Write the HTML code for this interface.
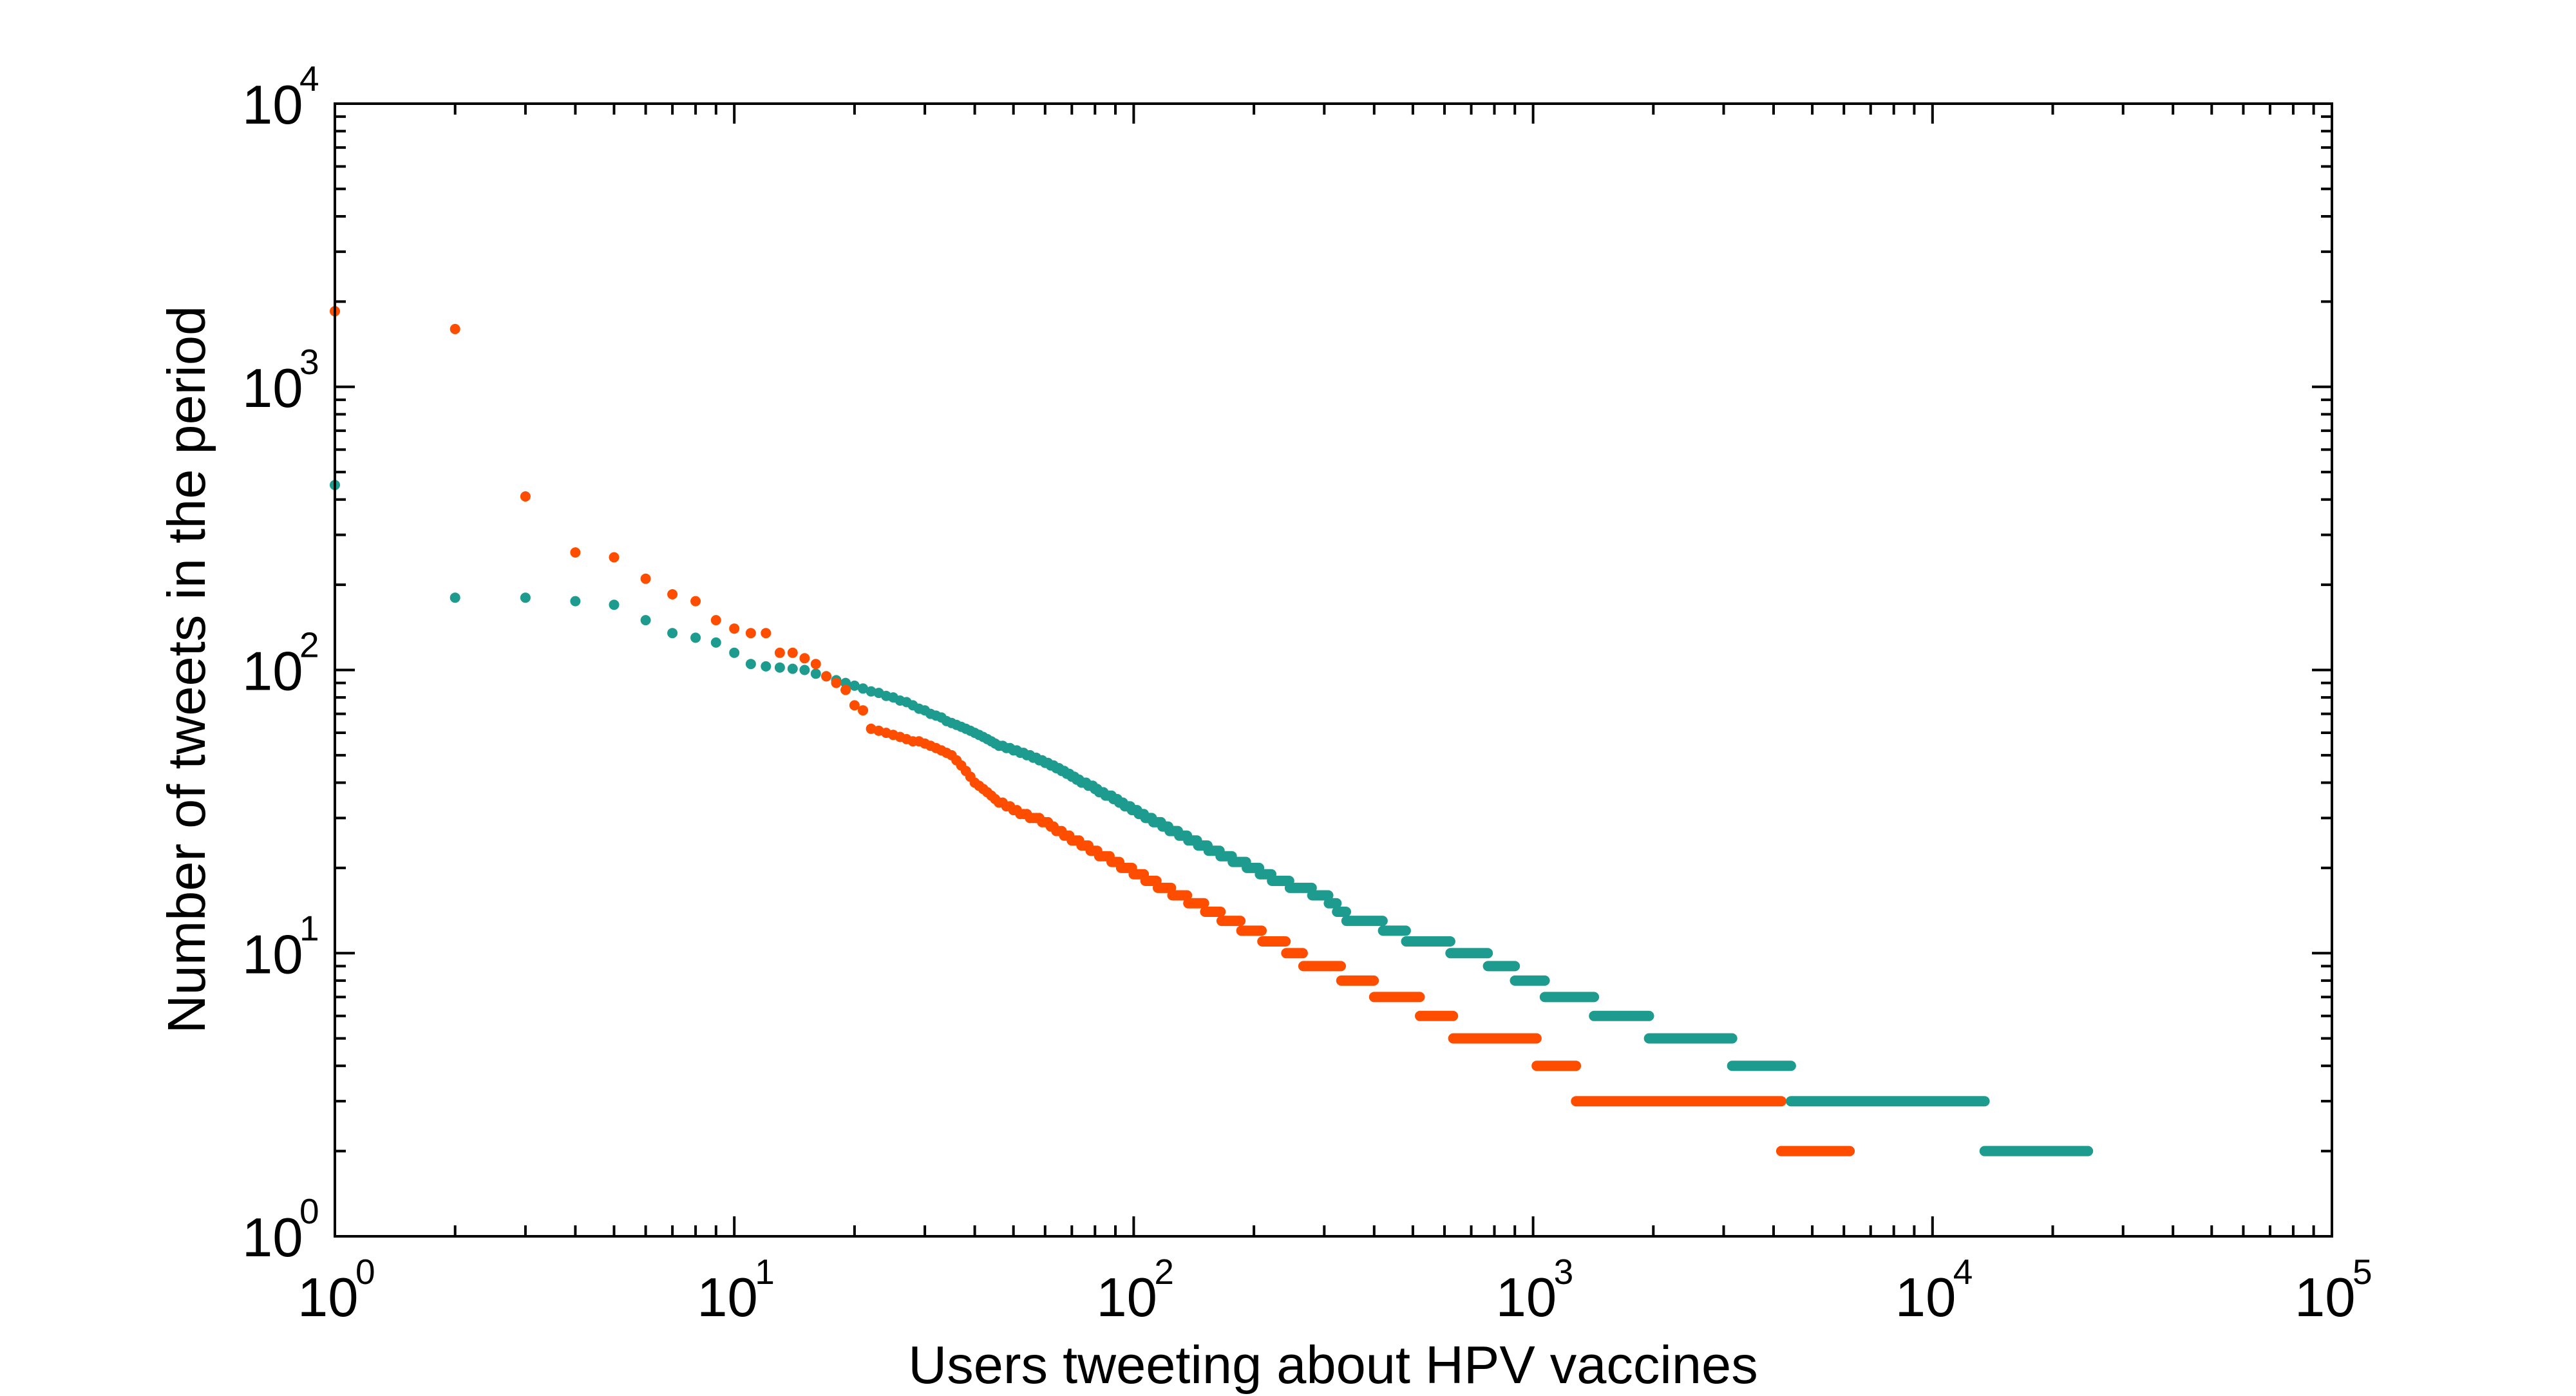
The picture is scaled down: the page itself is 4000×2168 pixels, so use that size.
<!DOCTYPE html>
<html><head><meta charset="utf-8">
<style>
html,body{margin:0;padding:0;background:#fff;}
svg{display:block;}
text{font-family:"Liberation Sans",Arial,sans-serif;fill:#000;}
</style></head>
<body>
<svg id="s" width="4000" height="2168" xmlns="http://www.w3.org/2000/svg">
<rect width="4000" height="2168" fill="#fff"/>
<g id="data"></g>
<g id="axes"></g>
<text x="2070" y="2148" font-size="83" text-anchor="middle">Users tweeting about HPV vaccines</text>
<text transform="translate(318,1040) rotate(-90)" font-size="83" text-anchor="middle">Number of tweets in the period</text>
</svg>
<script>
var L=520,R=3621,T=161,B=1920,DX=(R-L)/5,DY=(B-T)/4;
function px(x){return L+Math.log10(x)*DX;}
function py(y){return B-Math.log10(y)*DY;}
var NS="http://www.w3.org/2000/svg";
function el(tag,attrs,parent,txt){var e=document.createElementNS(NS,tag);for(var k in attrs)e.setAttribute(k,attrs[k]);if(txt!==undefined)e.textContent=txt;parent.appendChild(e);return e;}
var ax=document.getElementById('axes');
el('rect',{x:L,y:T,width:R-L,height:B-T,fill:'none',stroke:'#000','stroke-width':4},ax);
var d='';
for(var e=0;e<5;e++){for(var m=1;m<10;m++){var v=Math.pow(10,e)*m;if(e==0&&m==1)continue;var X=px(v);var len=(m==1)?31:17;d+='M'+X+' '+B+'v'+(-len)+'M'+X+' '+T+'v'+len;}}
for(var e=0;e<4;e++){for(var m=1;m<10;m++){var v=Math.pow(10,e)*m;if(e==0&&m==1)continue;var Y=py(v);var len=(m==1)?31:17;d+='M'+L+' '+Y+'h'+len+'M'+R+' '+Y+'h'+(-len);}}
el('path',{d:d,stroke:'#000','stroke-width':4,fill:'none'},ax);
for(var e=0;e<=5;e++){var X=px(Math.pow(10,e));var t=el('text',{x:X-58,y:2044,'font-size':85},ax,'10');el('text',{x:X+32,y:1994,'font-size':55},ax,''+e);}
for(var e=0;e<=4;e++){var Y=py(Math.pow(10,e));el('text',{x:376,y:Y+31,'font-size':85},ax,'10');el('text',{x:465,y:Y-20,'font-size':55},ax,''+e);}
function interp(anch,x){
 for(var i=0;i<anch.length-1;i++){var a=anch[i],b=anch[i+1];if(x>=a[0]&&x<=b[0]){var t=(Math.log(x)-Math.log(a[0]))/(Math.log(b[0])-Math.log(a[0]));return Math.exp(Math.log(a[1])+t*(Math.log(b[1])-Math.log(a[1])));}}
 return anch[anch.length-1][1];}
function series(first,anch,end,color){
 var g=document.getElementById('data');
 var pts=[];
 for(var i=0;i<first.length;i++)pts.push([i+1,first[i]]);
 for(var x=first.length+1;x<=end;x++){pts.push([x,Math.round(interp(anch,x))]);}
 // group runs
 var runs=[];var cur=null;
 pts.forEach(function(p){var X=px(p[0]),Y=py(p[1]);
  if(cur&&cur.y==p[1]&&X-cur.x2<3){cur.x2=X;}else{cur={y:p[1],x1:X,x2:X,Y:Y};runs.push(cur);}});
 var dd='';
 runs.forEach(function(r){dd+='M'+r.x1.toFixed(1)+' '+r.Y.toFixed(1)+'H'+(r.x2+0.01).toFixed(1);});
 el('path',{d:dd,stroke:color,'stroke-width':16,'stroke-linecap':'round',fill:'none'},g);
}
series([450,180,180,175,170,150,135,130,125,115],
[[10,115],[11,105],[12,103],[15,100],[20,88],[25,80],[30,72],[35,65],[40,60],[45,55],[55,50],[65,45],[75,40],[90,35],[100,32],[120,28],[140,25],[170,22],[200,20],[230,18],[300,16],[340,13.5],[420,12.5],[480,11.5],[620,10.5],[770,9.5],[900,8.5],[1070,7.5],[1420,6.5],[1950,5.5],[3150,4.5],[4420,3.5],[13500,2.5],[13600,2],[24500,2]],24500,'#1E9B8F');
series([1850,1600,410,260,250,210,185,175,150,140,135,135,115,115,110,105,95,90,85,75,72],
[[21,72],[22,62],[30,55],[35,50],[40,40],[45,35],[50,32],[60,29],[75,24],[90,21],[110,18],[130,16],[150,14.5],[185,12.5],[240,10.5],[265,9.5],[330,8.5],[400,7.5],[520,6.5],[630,5.5],[1020,4.5],[1280,3.5],[4180,2.5],[4200,2],[6200,2]],6200,'#FF4D00');
</script>
</body></html>
